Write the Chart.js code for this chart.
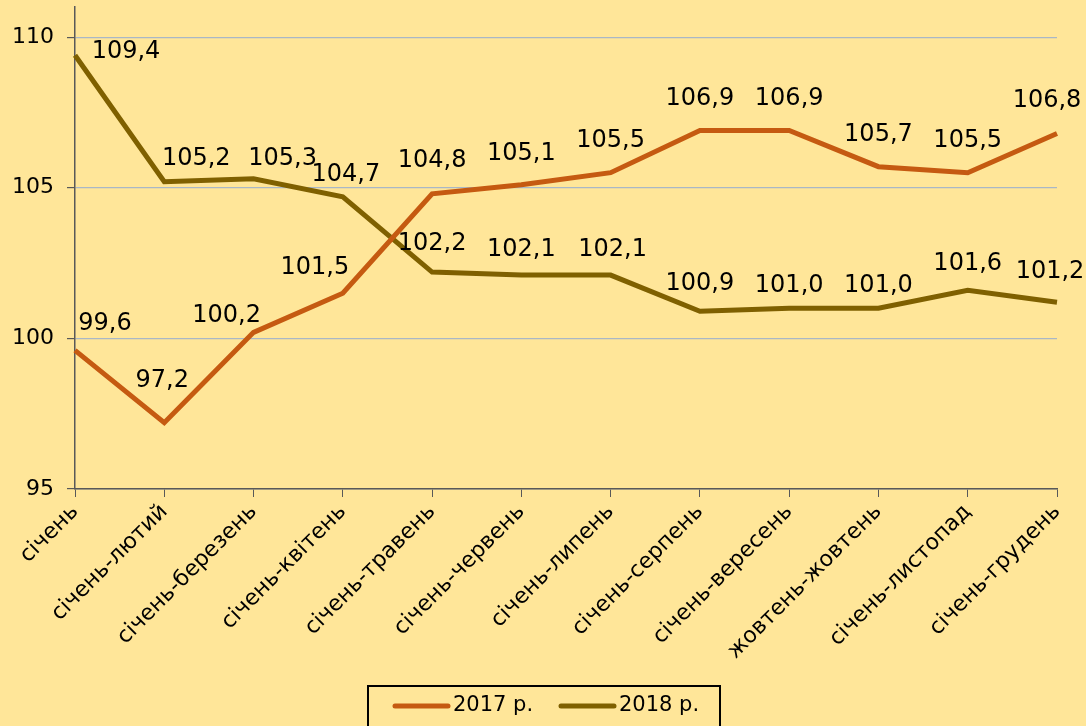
<!DOCTYPE html>
<html>
<head>
<meta charset="utf-8">
<script src="https://cdn.jsdelivr.net/npm/chart.js@4/dist/chart.umd.min.js"></script>
<style>
  html, body { margin: 0; padding: 0; background: #FFE699; }
  #wrap { width: 1086px; height: 726px; }
</style>
</head>
<body>
<div id="wrap"><canvas id="chart" width="1086" height="726"></canvas></div>
<script>
"use strict";

var categories = ["січень", "січень-лютий", "січень-березень", "січень-квітень",
    "січень-травень", "січень-червень", "січень-липень", "січень-серпень",
    "січень-вересень", "жовтень-жовтень", "січень-листопад", "січень-грудень"];
var values2017 = [99.6, 97.2, 100.2, 101.5, 104.8, 105.1, 105.5, 106.9, 106.9, 105.7, 105.5, 106.8];
var values2018 = [109.4, 105.2, 105.3, 104.7, 102.2, 102.1, 102.1, 100.9, 101.0, 101.0, 101.6, 101.2];
var yTicks = [95, 100, 105, 110];

var COLOR_2017 = "#C55A11";
var COLOR_2018 = "#7F6000";
var GRID_COLOR = "#A9B7C6";
var AXIS_COLOR = "#595959";
var FONT = "'DejaVu Sans', Verdana, sans-serif";

// label offsets (px) from each point, per series
var offsets2017 = [[30, -27], [-2, -42], [-27, -17], [-28, -25], [0, -33], [0, -31],
    [0, -32], [0, -32], [0, -32], [0, -32], [0, -32], [-10, -33]];
var offsets2018 = [[51, -3], [32, -23], [29, -20], [3, -22], [0, -28], [0, -25],
    [2, -25], [0, -27], [0, -22], [0, -22], [0, -26], [-7, -30]];

function fmt(v) {
    return v.toFixed(1).replace(".", ",");
}

var pointLabels = {
    id: "pointLabels",
    afterDatasetsDraw: function(chart) {
        var ctx = chart.ctx;
        ctx.save();
        ctx.font = "24px " + FONT;
        ctx.fillStyle = "#000";
        ctx.textAlign = "center";
        ctx.textBaseline = "middle";
        chart.data.datasets.forEach(function(ds, di) {
            var meta = chart.getDatasetMeta(di);
            meta.data.forEach(function(pt, i) {
                var off = ds.labelOffsets[i];
                ctx.fillText(fmt(ds.data[i]), pt.x + off[0], pt.y + off[1]);
            });
        });
        ctx.restore();
    }
};

var boxLegend = {
    id: "boxLegend",
    afterDraw: function(chart) {
        var ctx = chart.ctx;
        ctx.save();
        ctx.strokeStyle = "#000";
        ctx.lineWidth = 2;
        ctx.strokeRect(368, 686, 352, 60);
        ctx.font = "21px " + FONT;
        ctx.textBaseline = "middle";
        ctx.textAlign = "left";
        ctx.lineCap = "round";
        var starts = [395, 561];
        chart.data.datasets.forEach(function(ds, i) {
            var x = starts[i];
            ctx.strokeStyle = ds.borderColor;
            ctx.lineWidth = 5;
            ctx.beginPath();
            ctx.moveTo(x, 706);
            ctx.lineTo(x + 53, 706);
            ctx.stroke();
            ctx.fillStyle = "#000";
            ctx.fillText(ds.label, x + 58, 706);
        });
        ctx.restore();
    }
};

new Chart(document.getElementById("chart"), {
    type: "line",
    data: {
        labels: categories,
        datasets: [{
            label: "2017 р.",
            data: values2017,
            borderColor: COLOR_2017,
            backgroundColor: COLOR_2017,
            borderWidth: 5,
            pointRadius: 0,
            tension: 0,
            labelOffsets: offsets2017
        }, {
            label: "2018 р.",
            data: values2018,
            borderColor: COLOR_2018,
            backgroundColor: COLOR_2018,
            borderWidth: 5,
            pointRadius: 0,
            tension: 0,
            labelOffsets: offsets2018
        }]
    },
    options: {
        responsive: false,
        animation: false,
        events: [],
        layout: { padding: { top: 7, right: 29, bottom: 0, left: 0 } },
        plugins: {
            legend: { display: false },
            tooltip: { enabled: false }
        },
        scales: {
            x: {
                offset: false,
                grid: {
                    drawOnChartArea: false,
                    drawTicks: true,
                    tickLength: 8,
                    tickColor: AXIS_COLOR
                },
                border: { color: AXIS_COLOR, width: 1.5 },
                ticks: {
                    color: "#000",
                    font: { family: FONT, size: 22 },
                    minRotation: 45,
                    maxRotation: 45,
                    autoSkip: false,
                    padding: 2
                },
                afterFit: function(scale) {
                    scale.height = 726 - 489;
                    scale.paddingRight = 0;
                }
            },
            y: {
                min: 95,
                max: 111,
                afterBuildTicks: function(scale) {
                    scale.ticks = yTicks.map(function(v) { return { value: v }; });
                },
                grid: {
                    color: GRID_COLOR,
                    lineWidth: 1.2,
                    tickLength: 8,
                    tickColor: AXIS_COLOR
                },
                border: { color: AXIS_COLOR, width: 1.5 },
                ticks: {
                    color: "#000",
                    font: { family: FONT, size: 22 },
                    padding: 13
                },
                afterFit: function(scale) {
                    scale.width = 75;
                    scale.paddingTop = 0;
                    scale.paddingBottom = 0;
                }
            }
        }
    },
    plugins: [pointLabels, boxLegend]
});
</script>
</body>
</html>
